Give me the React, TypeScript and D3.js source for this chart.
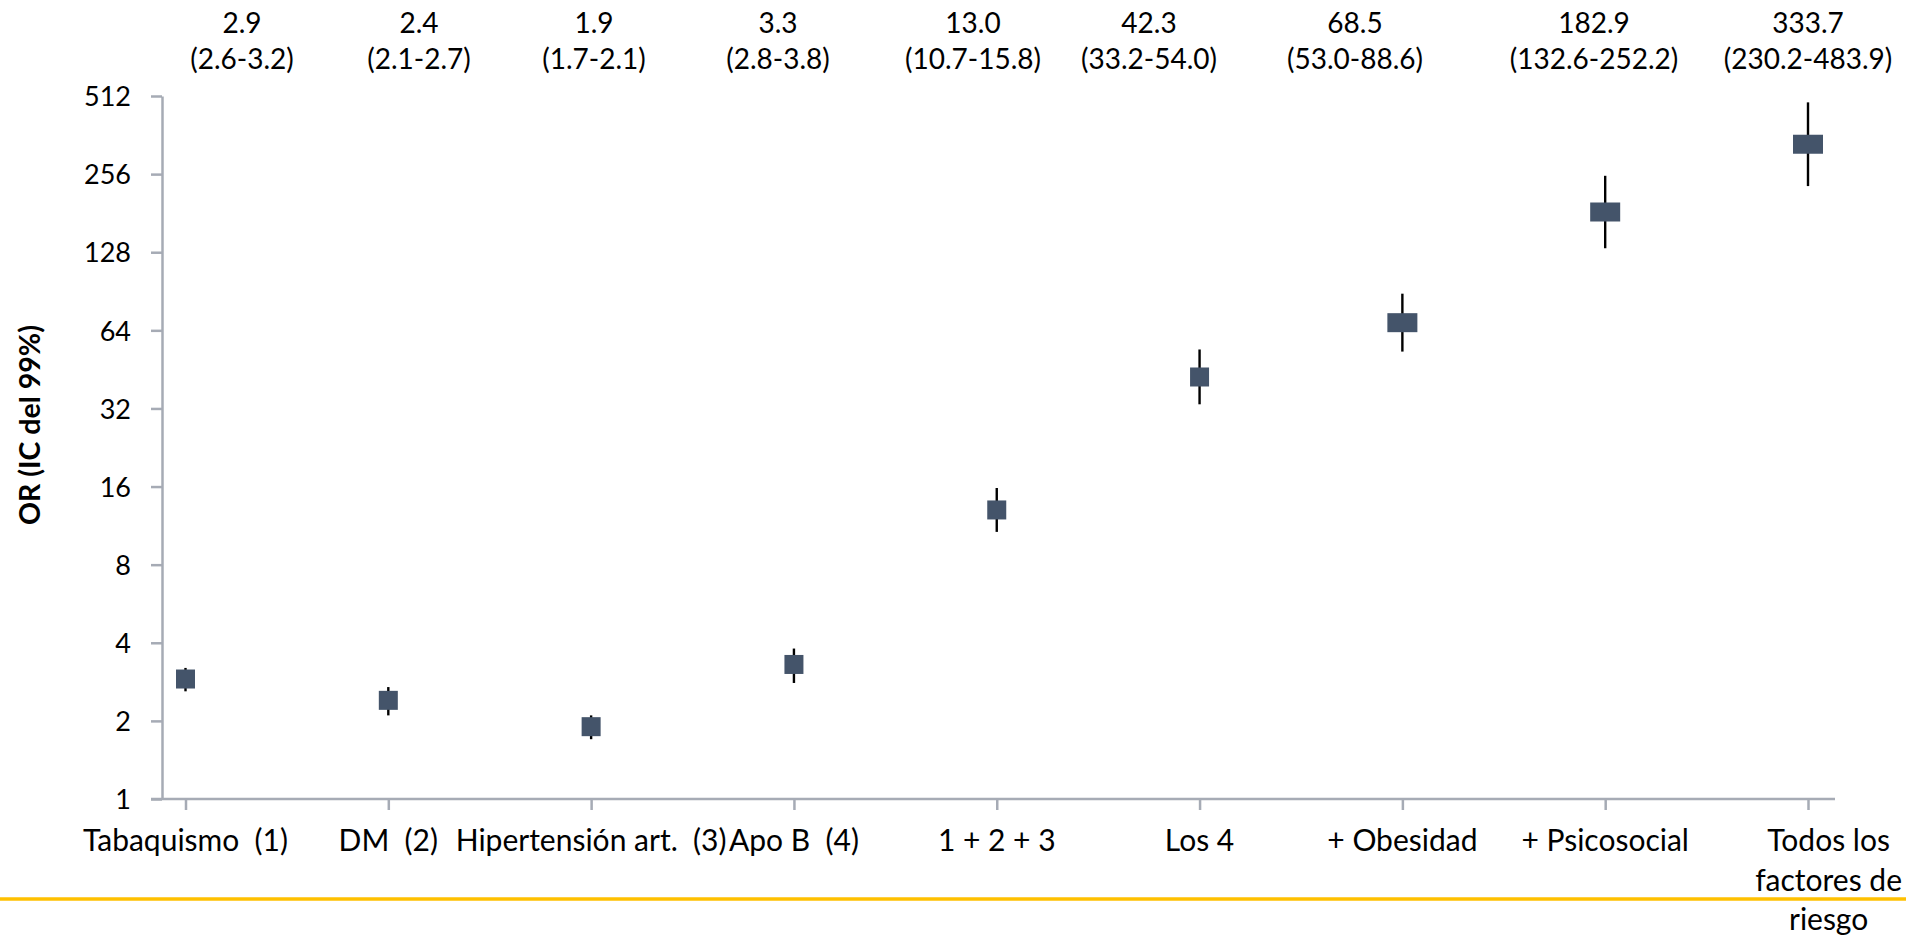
import React, { useEffect, useRef } from "react";
import * as d3 from "d3";

// Risk factor groups (line breaks mark where a long label wraps)
const categories = [
  "Tabaquismo  (1)",
  "DM  (2)",
  "Hipertensión art.  (3)",
  "Apo B  (4)",
  "1 + 2 + 3",
  "Los 4",
  "+ Obesidad",
  "+ Psicosocial",
  "Todos los\nfactores de\nriesgo",
];

// Odds ratio and 99% confidence interval for each group
const oddsRatio = [2.9, 2.4, 1.9, 3.3, 13.0, 42.3, 68.5, 182.9, 333.7];
const ciLow = [2.6, 2.1, 1.7, 2.8, 10.7, 33.2, 53.0, 132.6, 230.2];
const ciHigh = [3.2, 2.7, 2.1, 3.8, 15.8, 54.0, 88.6, 252.2, 483.9];

// Log2 axis ticks
const yTicks = [1, 2, 4, 8, 16, 32, 64, 128, 256, 512];

// ---- layout & style ----
const W = 1906;
const H = 937;
const AXIS_COLOR = "#A6ABB5";
const MARKER_COLOR = "#44546A";
const FONT = "Lato, 'Open Sans', sans-serif";
const plot = { left: 162, right: 1835, top: 96, bottom: 799, firstX: 185.5, lastX: 1808 };
// header row with the OR / CI text, one column per group
const headerCenters = [242, 419, 594, 778, 973, 1149, 1355, 1594, 1808];
const markerWidths = [19, 19, 19, 19, 19, 19, 30, 30, 30];
const markerHeight = 19;

export default function App() {
  const ref = useRef<SVGSVGElement | null>(null);

  useEffect(() => {
    const svg = d3.select(ref.current);
    svg.selectAll("*").remove();

    const x = d3.scalePoint<string>().domain(categories).range([plot.firstX, plot.lastX]);
    const y = d3.scaleLog().base(2).domain([1, 512]).range([plot.bottom, plot.top]);

    // header: OR and CI text
    const header = svg.append("g").attr("font-family", FONT).attr("font-size", 28).attr("fill", "#000");
    oddsRatio.forEach((v, i) => {
      const t = header.append("text").attr("text-anchor", "middle");
      t.append("tspan").attr("x", headerCenters[i]).attr("y", 33).text(v.toFixed(1));
      t.append("tspan")
        .attr("x", headerCenters[i])
        .attr("y", 69)
        .text(`(${ciLow[i].toFixed(1)}-${ciHigh[i].toFixed(1)})`);
    });

    // y axis
    const yAxis = d3
      .axisLeft(y)
      .tickValues(yTicks)
      .tickFormat(d3.format("d") as any)
      .tickSize(11)
      .tickSizeOuter(0)
      .tickPadding(20);
    const gy = svg.append("g").attr("transform", `translate(${plot.left},0)`).call(yAxis as any);
    gy.select(".domain").attr("stroke", AXIS_COLOR).attr("stroke-width", 2.5);
    gy.selectAll(".tick line").attr("stroke", AXIS_COLOR).attr("stroke-width", 2.5);
    gy.selectAll(".tick text")
      .attr("font-family", FONT)
      .attr("font-size", 27)
      .attr("fill", "#000")
      .attr("dy", "0.36em");

    // x axis baseline and ticks
    svg
      .append("line")
      .attr("x1", plot.left - 11)
      .attr("x2", plot.right)
      .attr("y1", plot.bottom)
      .attr("y2", plot.bottom)
      .attr("stroke", AXIS_COLOR)
      .attr("stroke-width", 2.5);
    const xAxis = d3.axisBottom(x).tickSize(11).tickSizeOuter(0).tickFormat(() => "");
    const gx = svg.append("g").attr("transform", `translate(0,${plot.bottom})`).call(xAxis as any);
    gx.select(".domain").remove();
    gx.selectAll(".tick line").attr("stroke", AXIS_COLOR).attr("stroke-width", 2.5);

    // category labels; a wrapped label sits flush with the right edge
    const labels = svg.append("g").attr("font-family", FONT).attr("font-size", 30).attr("fill", "#000");
    categories.forEach((c) => {
      const lines = c.split("\n");
      const t = labels.append("text").attr("text-anchor", "middle").style("white-space", "pre");
      lines.forEach((ln, k) => {
        t.append("tspan").attr("x", 0).attr("y", 851 + k * 39.5).text(ln);
      });
      const w = (t.node() as SVGTextElement).getBBox().width;
      const cx = lines.length > 1 ? W - 4 - w / 2 : x(c)!;
      t.selectAll("tspan").attr("x", cx);
    });

    // y axis title
    svg
      .append("text")
      .attr("transform", `translate(40,425) rotate(-90)`)
      .attr("text-anchor", "middle")
      .attr("font-family", FONT)
      .attr("font-weight", "bold")
      .attr("font-size", 28.5)
      .attr("fill", "#000")
      .text("OR (IC del 99%)");

    // confidence interval whiskers
    svg
      .append("g")
      .selectAll("line")
      .data(categories)
      .join("line")
      .attr("x1", (c) => x(c)!)
      .attr("x2", (c) => x(c)!)
      .attr("y1", (_, i) => y(ciHigh[i]))
      .attr("y2", (_, i) => y(ciLow[i]))
      .attr("stroke", "#000")
      .attr("stroke-width", 2.4);

    // OR markers
    svg
      .append("g")
      .selectAll("rect")
      .data(categories)
      .join("rect")
      .attr("x", (c, i) => x(c)! - markerWidths[i] / 2)
      .attr("y", (_, i) => y(oddsRatio[i]) - markerHeight / 2)
      .attr("width", (_, i) => markerWidths[i])
      .attr("height", markerHeight)
      .attr("fill", MARKER_COLOR);

    // gold rule under the chart
    svg
      .append("line")
      .attr("x1", 0)
      .attr("x2", W)
      .attr("y1", 899)
      .attr("y2", 899)
      .attr("stroke", "#FFC000")
      .attr("stroke-width", 3.5);
  }, []);

  return (
    <div style={{ position: "fixed", left: 0, top: 0, width: W, height: H, background: "#fff" }}>
      <svg ref={ref} width={W} height={H} style={{ display: "block" }} />
    </div>
  );
}
